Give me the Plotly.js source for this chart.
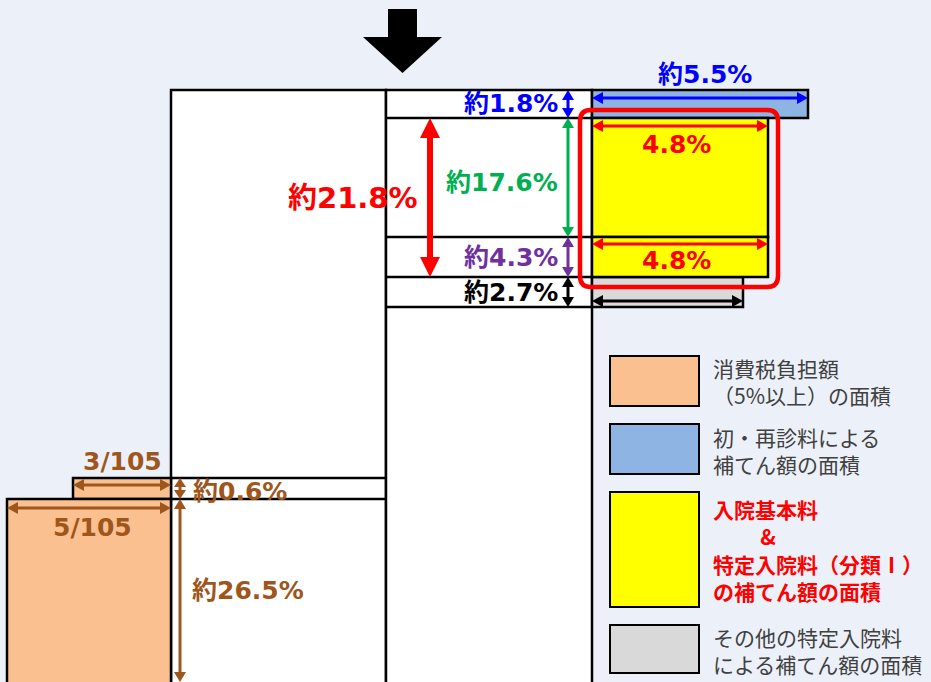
<!DOCTYPE html>
<html><head><meta charset="utf-8">
<script src="https://cdn.plot.ly/plotly-3.0.1.min.js"></script>
<style>html,body{margin:0;padding:0;background:#ECF1F9;overflow:hidden}#chart{width:931px;height:682px}</style>
</head><body><div id="chart"></div>
<script>
// ---------- data ----------
const rowShares = [1.8, 17.6, 4.3, 2.7];          // right column bands
const rowColors = ['#0000FF', '#00B050', '#7030A0', '#000000'];
const combinedShare = 21.8;                          // 17.6 + 4.3 (rounded)
const firstVisitShare = 5.5;                         // width of blue box
const inpatientShares = [4.8, 4.8];                  // widths of yellow boxes
const taxRowShares = [0.6, 26.5];                    // left bands
const taxFractions = ['3/105', '5/105'];
const legendLines = [
  ['消費税負担額', '（5%以上）の面積'],
  ['初・再診料による', '補てん額の面積'],
  ['入院基本料', '\u3000\u3000\u2005&', '特定入院料（分類Ⅰ）', 'の補てん額の面積'],
  ['その他の特定入院料', 'による補てん額の面積']
];
const legendFills = ['#FAC090', '#8DB4E2', '#FFFF00', '#D9D9D9'];
const legendColors = ['#404040', '#404040', '#FF0000', '#404040'];

// ---------- diagram geometry (axis units) ----------
const BG = '#ECF1F9';
const BOTTOM = 700;
const colL = 171, colM = 386, colR = 592;
const rowEdges = [90, 118, 237, 277, 307];
const boxRight = {blue: 808, yellow: 768, gray: 743};
const taxEdges = [478, 499];
const taxLeft = [73, 7];
const legendBoxX = [610, 699];
const legendBoxY = [[356, 406], [424, 474], [492, 607], [625, 673]];
const legendTextY = [381, 450, 550, 650];
const BROWN = '#9E561C';

const shapes = [];
const ann = [];
const LW = 2.5;
function rect(x0, y0, x1, y1, fill, lw) {
  shapes.push({type: 'rect', xref: 'x', yref: 'y', x0, y0, x1, y1,
    fillcolor: fill, line: {color: '#000', width: lw === undefined ? LW : lw}});
}
function hline(x0, x1, y) {
  shapes.push({type: 'line', xref: 'x', yref: 'y', x0, x1, y0: y, y1: y, line: {color: '#000', width: LW}});
}
function head(tx, ty, ux, uy, hl, hw, color) {
  const bx = tx - ux * hl, by = ty - uy * hl, px = -uy, py = ux;
  shapes.push({type: 'path', xref: 'x', yref: 'y',
    path: `M${tx},${ty} L${bx + px * hw},${by + py * hw} L${bx - px * hw},${by - py * hw} Z`,
    fillcolor: color, line: {width: 0}});
}
function arrow(x0, y0, x1, y1, color, w, hl, hw, both) {
  const dx = x1 - x0, dy = y1 - y0, L = Math.hypot(dx, dy), ux = dx / L, uy = dy / L;
  const s0 = both ? hl * 0.8 : 0, s1 = hl * 0.8;
  shapes.push({type: 'line', xref: 'x', yref: 'y',
    x0: x0 + ux * s0, y0: y0 + uy * s0, x1: x1 - ux * s1, y1: y1 - uy * s1,
    line: {color, width: w}});
  head(x1, y1, ux, uy, hl, hw, color);
  if (both) head(x0, y0, -ux, -uy, hl, hw, color);
}
const NUMFONT = 'DejaVu Sans, Noto Sans CJK JP, sans-serif';
function label(text, x, y, color, size, xanchor) {
  ann.push({text, x, y, xref: 'x', yref: 'y', showarrow: false,
    xanchor: xanchor || 'center', yanchor: 'middle',
    font: {family: NUMFONT, size: size || 25, color, weight: 700}});
}
const approx = v => '約' + v + '%';

// big white columns
rect(colL, rowEdges[0], colM, BOTTOM, '#FFFFFF');
rect(colM, rowEdges[0], colR, BOTTOM, '#FFFFFF');
// right column bands
for (let i = 1; i < rowEdges.length; i++) hline(colM, colR, rowEdges[i]);
// coloured boxes on the right
rect(colR, rowEdges[3], boxRight.gray, rowEdges[4], legendFills[3]);
rect(colR, rowEdges[0], boxRight.blue, rowEdges[1], legendFills[1]);
rect(colR, rowEdges[1], boxRight.yellow, rowEdges[2], legendFills[2]);
rect(colR, rowEdges[2], boxRight.yellow, rowEdges[3], legendFills[2]);
// left tax boxes
rect(taxLeft[0], taxEdges[0], colL, taxEdges[1], legendFills[0]);
rect(taxLeft[1], taxEdges[1], colL, BOTTOM, legendFills[0]);
hline(colL, colM, taxEdges[0]);
hline(colL, colM, taxEdges[1]);
// red rounded frame
(function () {
  const x0 = 580, y0 = 110, x1 = 778, y1 = 287, r = 11;
  shapes.push({type: 'path', xref: 'x', yref: 'y',
    path: `M${x0 + r},${y0} L${x1 - r},${y0} Q${x1},${y0} ${x1},${y0 + r} L${x1},${y1 - r} Q${x1},${y1} ${x1 - r},${y1} L${x0 + r},${y1} Q${x0},${y1} ${x0},${y1 - r} L${x0},${y0 + r} Q${x0},${y0} ${x0 + r},${y0} Z`,
    line: {color: '#FF0000', width: 4.5}, fillcolor: 'rgba(0,0,0,0)'});
})();
// big black down arrow
shapes.push({type: 'path', xref: 'x', yref: 'y',
  path: 'M388,9 L417,9 L417,37 L442,37 L402.5,73 L363,37 L388,37 Z',
  fillcolor: '#000', line: {width: 0}});

// vertical band arrows
const ax = 568;
for (let i = 0; i < rowShares.length; i++) {
  arrow(ax, rowEdges[i], ax, rowEdges[i + 1], rowColors[i], 3, 10, 6, true);
}
// big red arrow
arrow(430, rowEdges[1], 430, rowEdges[3], '#FF0000', 6, 20, 10, true);
// horizontal arrows
arrow(colR, 98, boxRight.blue, 98, '#0000FF', 3, 11, 6, true);
arrow(colR, 126, boxRight.yellow, 126, '#FF0000', 3, 11, 6, true);
arrow(colR, 244, boxRight.yellow, 244, '#FF0000', 3, 11, 6, true);
arrow(colR, 301, boxRight.gray, 301, '#000000', 3, 11, 6, true);
arrow(taxLeft[0], 485, colL, 485, BROWN, 3, 11, 6, true);
arrow(taxLeft[1], 508, colL, 508, BROWN, 3, 11, 6, true);
arrow(180, taxEdges[0], 180, taxEdges[1], BROWN, 3, 9, 6, true);
arrow(180, taxEdges[1], 180, 682, BROWN, 3, 10, 6, true);

// legend boxes and texts
for (let i = 0; i < legendFills.length; i++) {
  rect(legendBoxX[0], legendBoxY[i][0], legendBoxX[1], legendBoxY[i][1], legendFills[i], 2);
  const bold = legendColors[i] === '#FF0000';
  ann.push({text: legendLines[i].join('<br>'), x: 711, y: legendTextY[i], xref: 'x', yref: 'y',
    showarrow: false, xanchor: 'left', yanchor: 'middle', align: 'left',
    font: {family: 'Noto Sans CJK JP, sans-serif', size: 21, color: legendColors[i],
      weight: bold ? 700 : 400}});
}

// labels
label(approx(firstVisitShare), 705, 74, '#0000FF');
const rowLabelY = [103, 182, 257, 292];
rowShares.forEach((v, i) => label(approx(v), 560, rowLabelY[i], rowColors[i], 25, 'right'));
label(approx(combinedShare), 353, 198, '#FF0000', 29);
label(inpatientShares[0] + '%', 676, 144, '#FF0000', 25);
label(inpatientShares[1] + '%', 676, 260, '#FF0000', 25);
label(taxFractions[0], 122, 461, BROWN, 25);
label(taxFractions[1], 92, 527, BROWN, 25);
label(approx(taxRowShares[0]), 191, 491, BROWN, 25, 'left');
label(approx(taxRowShares[1]), 190, 590, BROWN, 25, 'left');

const layout = {
  width: 931, height: 682, margin: {l: 0, r: 0, t: 0, b: 0},
  paper_bgcolor: BG, plot_bgcolor: BG, showlegend: false,
  xaxis: {range: [0, 931], visible: false, fixedrange: true},
  yaxis: {range: [682, 0], visible: false, fixedrange: true},
  shapes, annotations: ann
};
Plotly.newPlot('chart', [], layout, {staticPlot: true, displayModeBar: false});
</script></body></html>
